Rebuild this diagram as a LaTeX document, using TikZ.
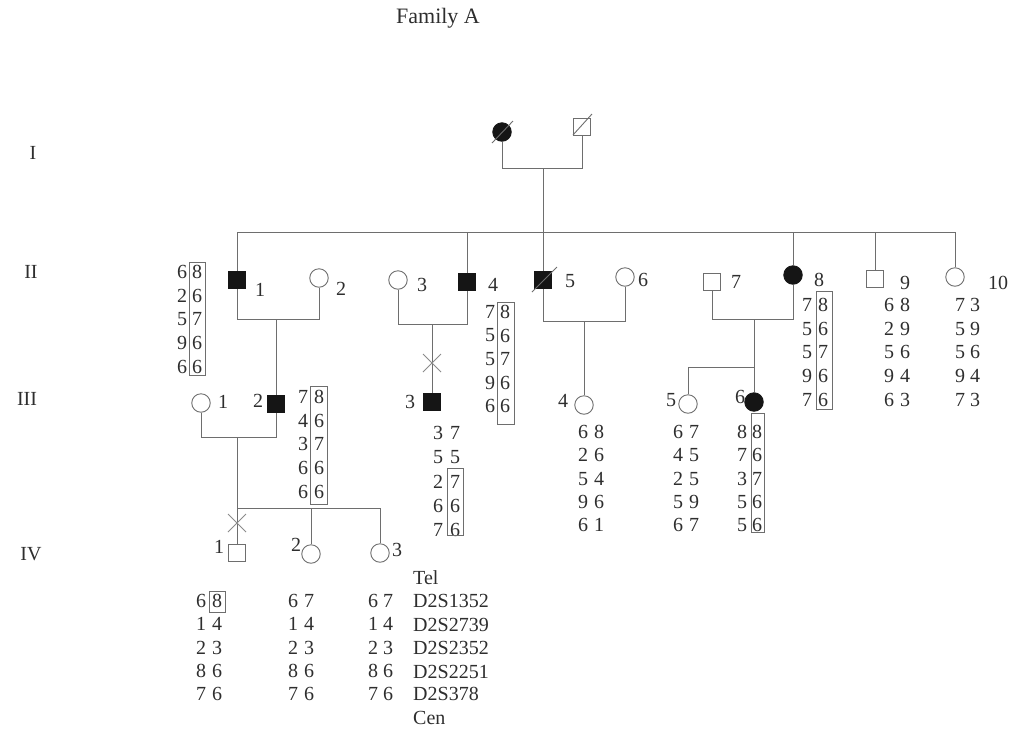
\documentclass[tikz,border=0pt]{standalone}
\usepackage{fontspec}
\setmainfont{Liberation Serif}
\definecolor{linec}{HTML}{6E6E6E}
\definecolor{txtc}{HTML}{2E2E2E}
\definecolor{affc}{HTML}{151515}
\newcommand\haplo[6]{% name, xleft, xright, ytop, step, list
  \foreach \a/\b [count=\i] in {#6} {
    \node[dg] (#1a\i) at (#2,{#4+#5*(\i-1)}) {\a};
    \node[dg] (#1b\i) at (#3,{#4+#5*(\i-1)}) {\b};
  }}
\begin{document}
\begin{tikzpicture}[x=1pt,y=-1pt,
  every node/.style={font=\fontsize{20}{24}\selectfont, text=txtc, inner sep=0pt},
  dg/.style={},
  lbl/.style={},
  sq/.style={draw=linec, rectangle, minimum size=17.5pt, line width=0.9pt},
  ci/.style={draw=linec, circle, minimum size=18.5pt, line width=0.9pt},
  aff/.style={fill=affc, draw=affc},
  ln/.style={draw=linec, line width=0.9pt},
  box/.style={draw=linec, line width=0.9pt},
  xmark/.style={draw=linec!80, line width=0.9pt}]
\useasboundingbox (0,0) rectangle (1013,732);

% title and generation labels
\node[font=\fontsize{22}{26}\selectfont] (title) at (438,18) {Family A};
\node (gI) at (33,153) {I};
\node (gII) at (31,272) {II};
\node (gIII) at (27,399) {III};
\node (gIV) at (31,554) {IV};

% Generation I
\node[ci,aff] (I1) at (502,132) {};
\node[sq] (I2) at (582,127) {};
\draw[ln] (492,143) -- (513,121);
\draw[ln] (573,135) -- (592,114);
\coordinate (mI) at (543,168);
\coordinate (sII) at (543,232);
\draw[ln] (I1) -- (I1 |- mI) -- (I2 |- mI) -- (I2);
\draw[ln] (mI) -- (sII);

% Generation II
\node[sq,aff] (II1) at (237,280) {};
\node[lbl] (lII1) at (260,290) {1};
\node[ci] (II2) at (319,278) {};
\node[lbl] (lII2) at (341,289) {2};
\node[ci] (II3) at (398,280) {};
\node[lbl] (lII3) at (422,285) {3};
\node[sq,aff] (II4) at (467,282) {};
\node[lbl] (lII4) at (493,285) {4};
\node[sq,aff] (II5) at (543,280) {};
\draw[ln] (532,292) -- (557,267);
\node[lbl] (lII5) at (570,281) {5};
\node[ci] (II6) at (625,277) {};
\node[lbl] (lII6) at (643,280) {6};
\node[sq] (II7) at (712,282) {};
\node[lbl] (lII7) at (736,282) {7};
\node[ci,aff] (II8) at (793,275) {};
\node[lbl] (lII8) at (819,280) {8};
\node[sq] (II9) at (875,279) {};
\node[lbl] (lII9) at (905,283) {9};
\node[ci] (II10) at (955,277) {};
\node[lbl] (lII10) at (998,283) {10};

\draw[ln] (II1 |- sII) -- (II10 |- sII);
\foreach \n in {II1,II4,II5,II8,II9,II10} \draw[ln] (\n |- sII) -- (\n);

% couples in II
\coordinate (m12) at (276,319);
\draw[ln] (II1) -- (II1 |- m12) -- (II2 |- m12) -- (II2);
\coordinate (m34) at (432,324);
\draw[ln] (II3) -- (II3 |- m34) -- (II4 |- m34) -- (II4);
\coordinate (m56) at (584,321);
\draw[ln] (II5) -- (II5 |- m56) -- (II6 |- m56) -- (II6);
\coordinate (m78) at (754,319);
\draw[ln] (II7) -- (II7 |- m78) -- (II8 |- m78) -- (II8);

% Generation III
\node[ci] (III1) at (201,403) {};
\node[lbl] (lIII1) at (223,402) {1};
\node[sq,aff] (III2) at (276,404) {};
\node[lbl] (lIII2) at (258,401) {2};
\node[sq,aff] (III3) at (432,402) {};
\node[lbl] (lIII3) at (410,402) {3};
\node[ci] (III4) at (584,405) {};
\node[lbl] (lIII4) at (563,401) {4};
\node[ci] (III5) at (688,404) {};
\node[lbl] (lIII5) at (671,400) {5};
\node[ci,aff] (III6) at (754,402) {};
\node[lbl] (lIII6) at (740,397) {6};

\draw[ln] (m12) -- (III2);
\draw[ln] (m34) -- (III3);
\draw[xmark] (423,354) -- (441,372) (441,354) -- (423,372);
\draw[ln] (m56) -- (III4);
\coordinate (s78) at (754,367);
\draw[ln] (m78) -- (s78);
\draw[ln] (III5) -- (III5 |- s78) -- (s78) -- (III6);

% couple in III
\coordinate (mIII) at (237,437);
\draw[ln] (III1) -- (III1 |- mIII) -- (III2 |- mIII) -- (III2);
\coordinate (sIV) at (237,508);
\draw[ln] (mIII) -- (sIV);

% Generation IV
\node[sq] (IV1) at (237,553) {};
\node[lbl] (lIV1) at (219,547) {1};
\node[ci] (IV2) at (311,554) {};
\node[lbl] (lIV2) at (296,545) {2};
\node[ci] (IV3) at (380,553) {};
\node[lbl] (lIV3) at (397,550) {3};
\draw[ln] (IV1 |- sIV) -- (IV3 |- sIV);
\foreach \n in {IV1,IV2,IV3} \draw[ln] (\n |- sIV) -- (\n);
\draw[xmark] (228,514) -- (246,532) (246,514) -- (228,532);

% haplotypes
\haplo{hII1}{182}{197}{272}{23.7}{6/8,2/6,5/7,9/6,6/6}
\draw[box] (189,262) rectangle (205,375);
\haplo{hII4}{490}{505}{312}{23.5}{7/8,5/6,5/7,9/6,6/6}
\draw[box] (497,302) rectangle (514,424);
\haplo{hII8}{807}{823}{305}{23.7}{7/8,5/6,5/7,9/6,7/6}
\draw[box] (816,291) rectangle (832,409);
\haplo{hII9}{889}{905}{305}{23.7}{6/8,2/9,5/6,9/4,6/3}
\haplo{hII10}{960}{975}{305}{23.7}{7/3,5/9,5/6,9/4,7/3}
\haplo{hIII2}{303}{319}{397}{23.7}{7/8,4/6,3/7,6/6,6/6}
\draw[box] (310,386) rectangle (327,504);
\haplo{hIII3}{438}{455}{433}{24.3}{3/7,5/5,2/7,6/6,7/6}
\draw[box] (447,468) rectangle (463,535);
\haplo{hIII4}{583}{599}{432}{23.3}{6/8,2/6,5/4,9/6,6/1}
\haplo{hIII5}{678}{694}{432}{23.3}{6/7,4/5,2/5,5/9,6/7}
\haplo{hIII6}{742}{757}{432}{23.3}{8/8,7/6,3/7,5/6,5/6}
\draw[box] (751,413) rectangle (764,532);
\haplo{hIV1}{201}{217}{601}{23.3}{6/8,1/4,2/3,8/6,7/6}
\draw[box] (209,591) rectangle (225,612);
\haplo{hIV2}{293}{309}{601}{23.3}{6/7,1/4,2/3,8/6,7/6}
\haplo{hIV3}{373}{388}{601}{23.3}{6/7,1/4,2/3,8/6,7/6}

% markers
\node[anchor=west] (mTel) at (413,578) {Tel};
\node[anchor=west] (mk1) at (413,601) {D2S1352};
\node[anchor=west] (mk2) at (413,625) {D2S2739};
\node[anchor=west] (mk3) at (413,648) {D2S2352};
\node[anchor=west] (mk4) at (413,672) {D2S2251};
\node[anchor=west] (mk5) at (413,694) {D2S378};
\node[anchor=west] (mCen) at (413,718) {Cen};
\end{tikzpicture}
\end{document}
